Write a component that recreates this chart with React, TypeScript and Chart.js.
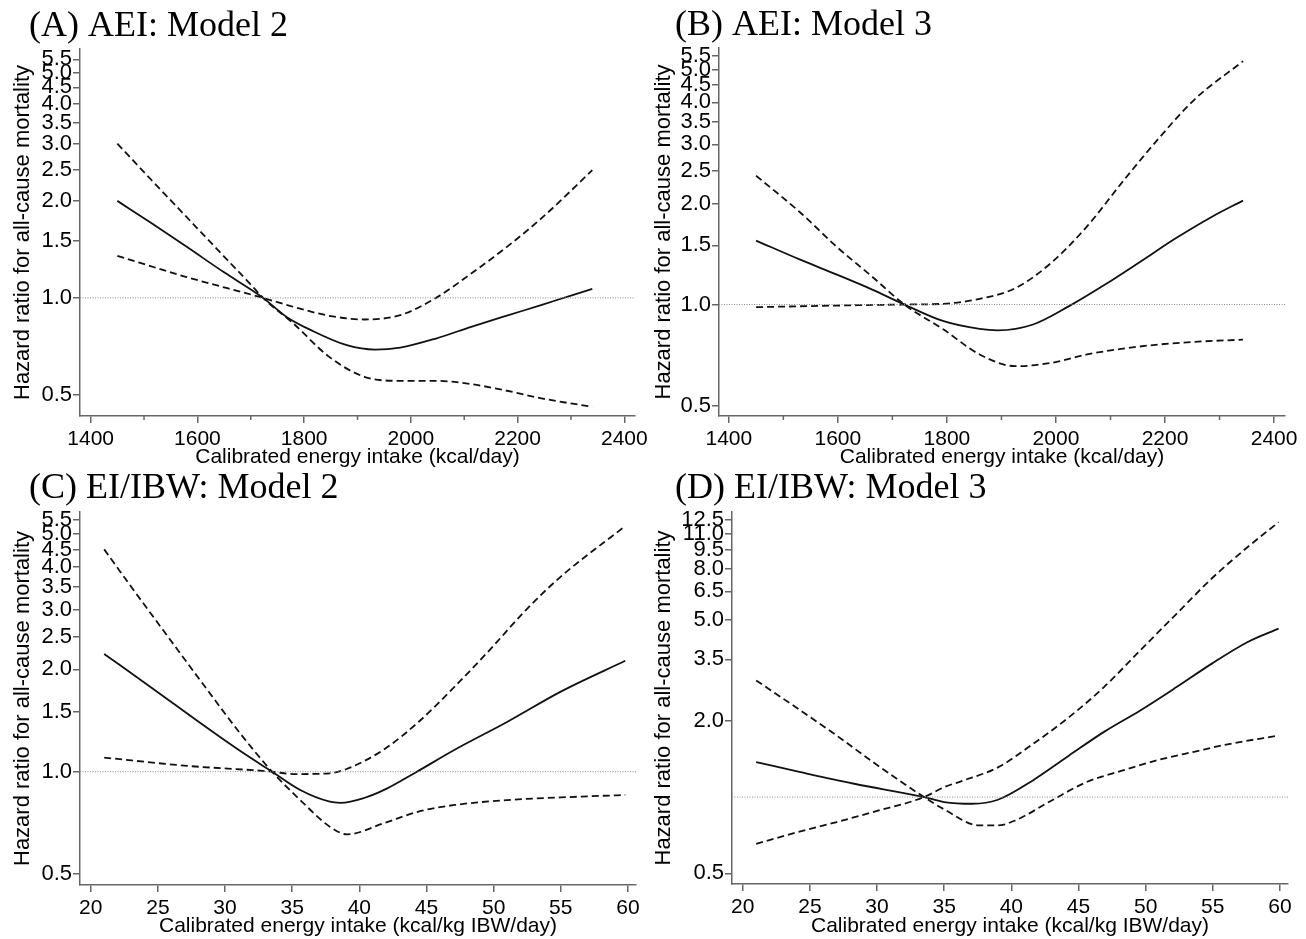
import React, { useEffect, useRef } from "react";
import { Chart, registerables } from "chart.js";
Chart.register(...registerables);

// ---------- tick labels ----------
const yTicksStd = [0.5, 1.0, 1.5, 2.0, 2.5, 3.0, 3.5, 4.0, 4.5, 5.0, 5.5];
const yTicksD = [0.5, 2.0, 3.5, 5.0, 6.5, 8.0, 9.5, 11.0, 12.5];
const xMajorKcal = [1400, 1600, 1800, 2000, 2200, 2400];
const xMinorKcal = [1500, 1700, 1900, 2100, 2300];
const xTicksIbw = [20, 25, 30, 35, 40, 45, 50, 55, 60];

// ---------- Panel A: AEI Model 2 ----------
const aSolidX = [1450, 1515, 1580, 1650, 1723, 1767, 1813, 1880, 1933, 1980, 2047, 2113, 2180, 2247, 2300, 2340];
const aSolidY = [2.0, 1.7, 1.44, 1.2, 1.0, 0.873, 0.794, 0.713, 0.691, 0.701, 0.748, 0.813, 0.881, 0.953, 1.017, 1.066];
const aDash1X = [1450, 1513, 1580, 1647, 1700, 1723, 1780, 1847, 1913, 1980, 2047, 2113, 2180, 2247, 2340];
const aDash1Y = [3.01, 2.33, 1.78, 1.36, 1.1, 1.0, 0.832, 0.656, 0.569, 0.553, 0.553, 0.54, 0.515, 0.487, 0.459];
const aDash2X = [1450, 1580, 1723, 1780, 1847, 1913, 1980, 2047, 2113, 2180, 2247, 2340];
const aDash2Y = [1.35, 1.16, 1.0, 0.938, 0.88, 0.857, 0.884, 1.0, 1.19, 1.44, 1.78, 2.49];

// ---------- Panel B: AEI Model 3 ----------
const bSolidX = [1450, 1531, 1597, 1663, 1722, 1794, 1860, 1893, 1958, 2024, 2090, 2156, 2221, 2287, 2343];
const bSolidY = [1.55, 1.36, 1.23, 1.108, 1.0, 0.892, 0.846, 0.838, 0.872, 0.989, 1.147, 1.346, 1.58, 1.83, 2.04];
const bDash1X = [1450, 1531, 1597, 1663, 1722, 1794, 1860, 1926, 1991, 2057, 2123, 2188, 2254, 2343];
const bDash1Y = [2.42, 1.88, 1.49, 1.21, 1.0, 0.842, 0.71, 0.655, 0.67, 0.71, 0.739, 0.76, 0.774, 0.786];
const bDash2X = [1450, 1597, 1722, 1794, 1860, 1926, 1991, 2057, 2123, 2188, 2254, 2343];
const bDash2Y = [0.982, 0.993, 1.0, 1.005, 1.04, 1.12, 1.33, 1.71, 2.33, 3.12, 4.08, 5.31];

// ---------- Panel C: EI/IBW Model 2 ----------
const cSolidX = [21, 24.5, 28.5, 31, 33.5, 35.6, 37.8, 38.6, 40.4, 42, 44.1, 47.1, 51, 55, 59.8];
const cSolidY = [2.22, 1.77, 1.36, 1.16, 1.0, 0.883, 0.816, 0.81, 0.838, 0.89, 0.99, 1.16, 1.4, 1.72, 2.12];
const cDash1X = [21, 23.2, 25.8, 28.5, 31.1, 33.5, 35.6, 37.8, 39.1, 41.8, 44.4, 47.1, 51, 55, 59.8];
const cDash1Y = [4.51, 3.42, 2.48, 1.78, 1.3, 1.0, 0.825, 0.689, 0.654, 0.705, 0.763, 0.798, 0.825, 0.84, 0.854];
const cDash2X = [21, 27.2, 33.5, 35.1, 37.8, 39.1, 41.8, 44.4, 47.1, 49.7, 52.4, 55, 59.8];
const cDash2Y = [1.1, 1.04, 1.0, 0.984, 0.989, 1.02, 1.16, 1.4, 1.78, 2.28, 2.99, 3.75, 5.28];

// ---------- Panel D: EI/IBW Model 3 ----------
const dSolidX = [21, 24.3, 28.3, 33.5, 35, 37.1, 39, 41.6, 44.3, 46.9, 49.6, 52.3, 54.9, 57.6, 59.9];
const dSolidY = [1.375, 1.255, 1.129, 1.0, 0.956, 0.941, 0.976, 1.164, 1.46, 1.81, 2.2, 2.72, 3.36, 4.1, 4.63];
const dDash1X = [21, 24.3, 27, 29.7, 33.5, 35, 37.6, 39, 40.3, 43, 45.6, 48.3, 50.9, 53.6, 56.2, 59.9];
const dDash1Y = [2.89, 2.2, 1.75, 1.375, 1.0, 0.894, 0.773, 0.773, 0.809, 0.97, 1.146, 1.275, 1.4, 1.51, 1.62, 1.75];
const dDash2X = [21, 24.3, 27, 29.7, 33.5, 35, 36.3, 39, 41.6, 44.3, 46.9, 49.6, 52.3, 54.9, 57.6, 59.9];
const dDash2Y = [0.654, 0.732, 0.797, 0.873, 1.0, 1.095, 1.157, 1.31, 1.62, 2.07, 2.72, 3.8, 5.3, 7.29, 9.73, 12.2];

const refHR = 1.0;
const yTitle = "Hazard ratio for all-cause mortality";
const xTitleKcal = "Calibrated energy intake (kcal/day)";
const xTitleIbw = "Calibrated energy intake (kcal/kg IBW/day)";

type Spec = {
  key: string;
  title: string;
  left: number; top: number; w: number; h: number;
  titleX: number; titleY: number;
  yAxisW: number; padTop: number; padRight: number; xAxisH: number;
  yTitlePad: number;
  xMin: number; xMax: number; yMin: number; yMax: number;
  xMajor: number[]; xMinor: number[]; yTicks: number[];
  xTitle: string;
  solid: [number[], number[]]; dash1: [number[], number[]]; dash2: [number[], number[]];
};

const specs: Spec[] = [
  {
    key: "A", title: "(A) AEI: Model 2", left: 0, top: 0, w: 653, h: 470,
    titleX: 29, titleY: 36, yAxisW: 80, padTop: 49, padRight: 18, xAxisH: 54, yTitlePad: 10,
    xMin: 1380, xMax: 2420, yMin: 0.43, yMax: 5.92,
    xMajor: xMajorKcal, xMinor: xMinorKcal, yTicks: yTicksStd, xTitle: xTitleKcal,
    solid: [aSolidX, aSolidY], dash1: [aDash1X, aDash1Y], dash2: [aDash2X, aDash2Y],
  },
  {
    key: "B", title: "(B) AEI: Model 3", left: 653, top: 0, w: 653, h: 470,
    titleX: 22, titleY: 35, yAxisW: 66, padTop: 48, padRight: 21, xAxisH: 54, yTitlePad: -2,
    xMin: 1382, xMax: 2420, yMin: 0.4655, yMax: 5.81,
    xMajor: xMajorKcal, xMinor: xMinorKcal, yTicks: yTicksStd, xTitle: xTitleKcal,
    solid: [bSolidX, bSolidY], dash1: [bDash1X, bDash1Y], dash2: [bDash2X, bDash2Y],
  },
  {
    key: "C", title: "(C) EI/IBW: Model 2", left: 0, top: 470, w: 653, h: 469,
    titleX: 29, titleY: 28, yAxisW: 80, padTop: 42, padRight: 17, xAxisH: 54, yTitlePad: 10,
    xMin: 19.2, xMax: 60.6, yMin: 0.464, yMax: 5.81,
    xMajor: xTicksIbw, xMinor: [], yTicks: yTicksStd, xTitle: xTitleIbw,
    solid: [cSolidX, cSolidY], dash1: [cDash1X, cDash1Y], dash2: [cDash2X, cDash2Y],
  },
  {
    key: "D", title: "(D) EI/IBW: Model 3", left: 653, top: 470, w: 653, h: 469,
    titleX: 22, titleY: 28, yAxisW: 79, padTop: 42, padRight: 18, xAxisH: 55, yTitlePad: -2,
    xMin: 19.2, xMax: 60.6, yMin: 0.4535, yMax: 13.38,
    xMajor: xTicksIbw, xMinor: [], yTicks: yTicksD, xTitle: xTitleIbw,
    solid: [dSolidX, dSolidY], dash1: [dDash1X, dDash1Y], dash2: [dDash2X, dDash2Y],
  },
];

const pts = (xs: number[], ys: number[]) => xs.map((x, i) => ({ x, y: ys[i] }));
const AXIS = "#666";
const SANS = "'Liberation Sans', Arial, sans-serif";

function Panel({ spec }: { spec: Spec }) {
  const ref = useRef<HTMLCanvasElement | null>(null);
  useEffect(() => {
    if (!ref.current) return;
    const extras = {
      id: "extras" + spec.key,
      afterDraw(chart: any) {
        const ctx = chart.ctx;
        ctx.save();
        ctx.fillStyle = "#000";
        ctx.font = "36px 'Liberation Serif', 'Times New Roman', serif";
        ctx.textBaseline = "alphabetic";
        ctx.textAlign = "left";
        ctx.fillText(spec.title, spec.titleX, spec.titleY);
        const xs = chart.scales.x;
        ctx.strokeStyle = AXIS;
        ctx.lineWidth = 1.5;
        spec.xMinor.forEach((v) => {
          const px = xs.getPixelForValue(v);
          ctx.beginPath();
          ctx.moveTo(px, chart.chartArea.bottom);
          ctx.lineTo(px, chart.chartArea.bottom + 4);
          ctx.stroke();
        });
        ctx.restore();
      },
    };
    const lineBase = { pointRadius: 0, borderColor: "#111", cubicInterpolationMode: "monotone" as const, fill: false };
    const chart = new Chart(ref.current, {
      type: "line",
      data: {
        datasets: [
          {
            data: [{ x: spec.xMin, y: refHR }, { x: spec.xMax, y: refHR }],
            borderColor: "#8a8a8a", borderWidth: 1, borderDash: [1, 1.5], pointRadius: 0, tension: 0,
          },
          { ...lineBase, data: pts(spec.dash1[0], spec.dash1[1]), borderWidth: 1.8, borderDash: [7, 4] },
          { ...lineBase, data: pts(spec.dash2[0], spec.dash2[1]), borderWidth: 1.8, borderDash: [7, 4] },
          { ...lineBase, data: pts(spec.solid[0], spec.solid[1]), borderWidth: 1.8 },
        ],
      },
      options: {
        responsive: false,
        animation: false,
        devicePixelRatio: 1,
        layout: { padding: { top: spec.padTop, right: spec.padRight, left: 0, bottom: 0 } },
        plugins: { legend: { display: false }, tooltip: { enabled: false }, title: { display: false } },
        scales: {
          x: {
            type: "linear",
            min: spec.xMin,
            max: spec.xMax,
            afterBuildTicks: (s: any) => { s.ticks = spec.xMajor.map((v) => ({ value: v })); },
            afterFit: (s: any) => { s.height = spec.xAxisH; },
            ticks: {
              autoSkip: false, maxRotation: 0, padding: 4, color: "#000",
              font: { family: SANS, size: 21 },
              callback: (v: any) => String(v),
            },
            grid: { display: true, drawOnChartArea: false, drawTicks: true, tickLength: 7, color: AXIS, lineWidth: 1.5 },
            border: { display: true, color: AXIS, width: 1.5 },
            title: { display: true, text: spec.xTitle, color: "#000", font: { family: SANS, size: 21 }, padding: { top: -3, bottom: 0 } },
          },
          y: {
            type: "logarithmic",
            min: spec.yMin,
            max: spec.yMax,
            afterBuildTicks: (s: any) => { s.ticks = spec.yTicks.map((v) => ({ value: v })); },
            afterFit: (s: any) => { s.width = spec.yAxisW; },
            ticks: {
              autoSkip: false, padding: 1, color: "#000",
              font: { family: SANS, size: 22 },
              callback: (v: any) => Number(v).toFixed(1),
            },
            grid: { display: true, drawOnChartArea: false, drawTicks: true, tickLength: 7, color: AXIS, lineWidth: 1.5 },
            border: { display: true, color: AXIS, width: 1.5 },
            title: { display: true, text: yTitle, color: "#000", font: { family: SANS, size: 22 }, padding: { top: spec.yTitlePad, bottom: 0 } },
          },
        },
      },
      plugins: [extras],
    } as any);
    return () => chart.destroy();
  }, [spec]);
  return (
    <canvas
      ref={ref}
      width={spec.w}
      height={spec.h}
      style={{ position: "absolute", left: spec.left, top: spec.top, width: spec.w, height: spec.h }}
    />
  );
}

export default function App() {
  return (
    <div style={{ position: "fixed", left: 0, top: 0, width: 1306, height: 939, background: "#fff" }}>
      {specs.map((s) => (
        <Panel key={s.key} spec={s} />
      ))}
    </div>
  );
}
